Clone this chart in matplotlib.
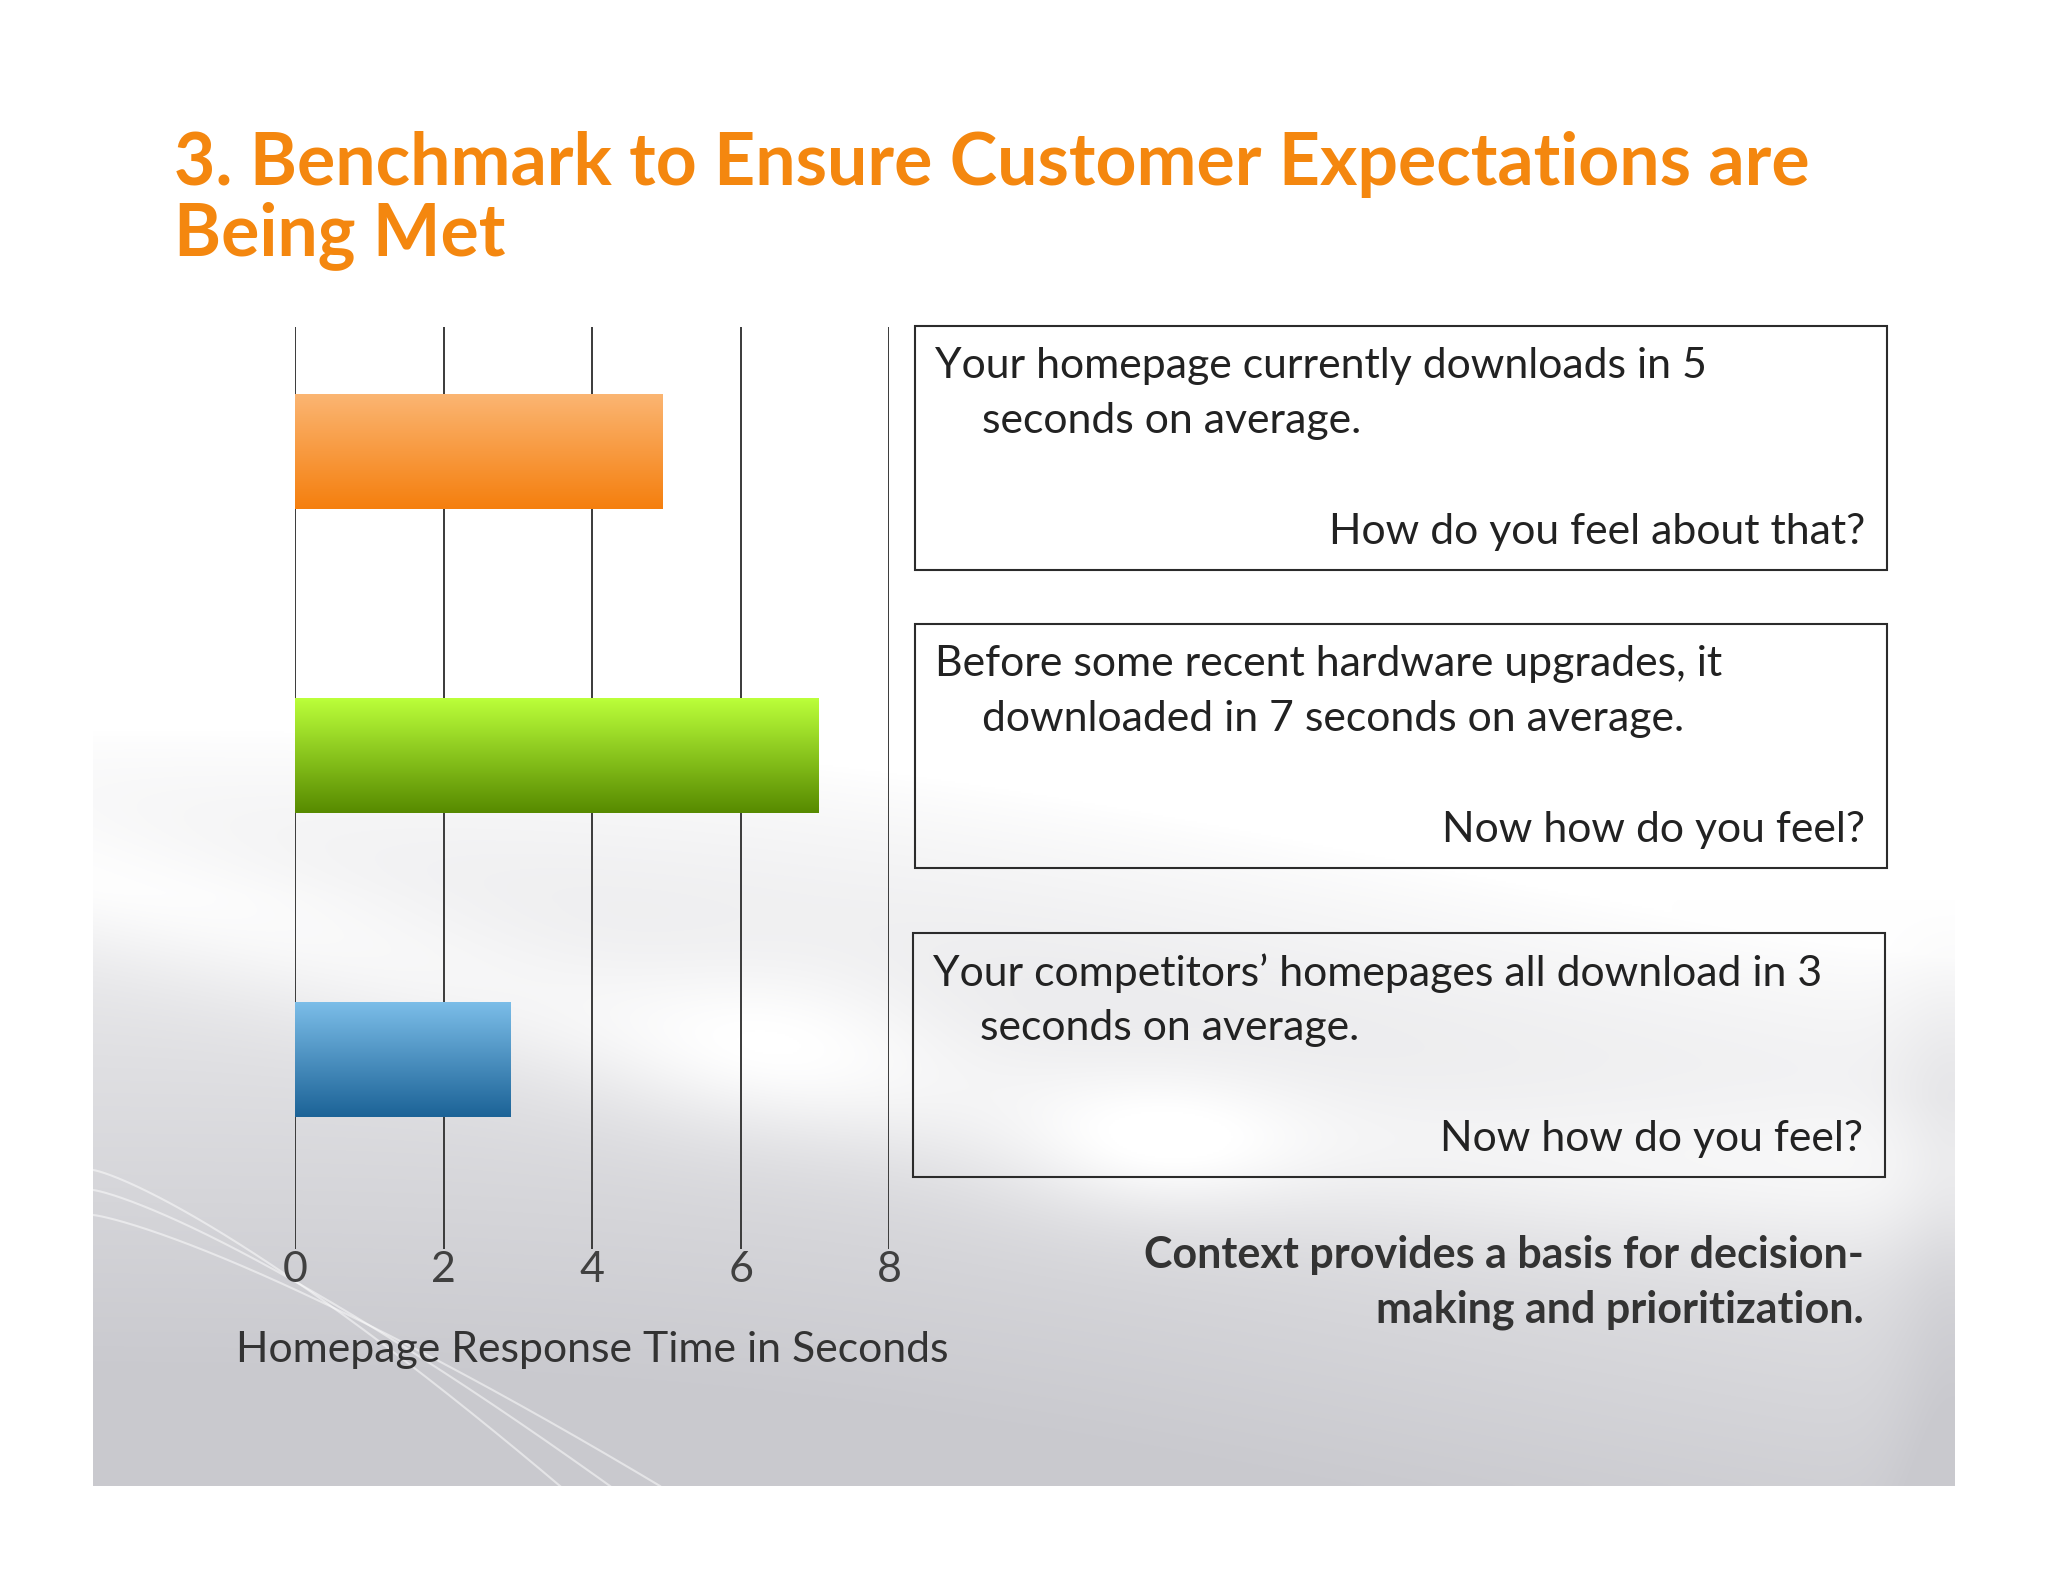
import numpy as np
import matplotlib.pyplot as plt
from matplotlib.patches import Rectangle
from matplotlib.colors import to_rgb

plt.rcParams['font.family'] = ['Lato', 'DejaVu Sans']

# chart data
categories = ["Current homepage", "Before hardware upgrades", "Competitors"]
response_times = [4.95, 7.05, 2.9]
bar_top_colors = ["#FBB572", "#BBFF3A", "#7BBDE8"]
bar_bottom_colors = ["#F57F0E", "#578A00", "#1C6397"]
x_ticks = [0, 2, 4, 6, 8]
x_label = "Homepage Response Time in Seconds"

title_lines = ["3. Benchmark to Ensure Customer Expectations are", "Being Met"]
box_texts = [
    ("Your homepage currently downloads in 5", "seconds on average.", "How do you feel about that?"),
    ("Before some recent hardware upgrades, it", "downloaded in 7 seconds on average.", "Now how do you feel?"),
    ("Your competitors\u2019 homepages all download in 3", "seconds on average.", "Now how do you feel?"),
]
note_lines = ["Context provides a basis for decision-", "making and prioritization."]

fig = plt.figure(figsize=(20.48, 15.82), dpi=100)

# background layer in pixel coordinates
bg = fig.add_axes([0, 0, 1, 1])
bg.axis('off')

# soft grey swirl behind the lower part of the slide
xs = np.arange(93, 1956, 2)
ys = np.arange(700, 1487, 2)
X, Y = np.meshgrid(xs, ys)
u = (X - 93) / 1862
yb = 730 + 190 * u - 40 * np.sin(np.pi * u * 1.4)
g = np.clip((Y - yb) / 640, 0, 1) ** 0.8
yc = 880 + 300 * u + 80 * np.sin(np.pi * u)
g = g - 0.3 * np.exp(-((Y - yc) / 80) ** 2) * np.clip(g * 3, 0, 1)
g = g - 0.35 * np.exp(-(((X - 1160) / 140) ** 2 + ((Y - 1150) / 70) ** 2))
g = g - 0.25 * np.exp(-(((X - 780) / 160) ** 2 + ((Y - 1040) / 90) ** 2))
g = g + 0.25 * np.exp(-((X - 1955) / 60) ** 2) * np.clip((Y - 900) / 200, 0, 1)
g = np.clip(g, 0, 1)
dark = np.array([0.79, 0.79, 0.81])
img = (1 - g)[..., None] + g[..., None] * dark
bg.imshow(img, extent=(93, 1955, 1486, 700), origin='upper', aspect='auto',
          interpolation='bilinear', zorder=0)
t = np.linspace(0, 1, 200)
for y_start, x_end in [(1170, 560), (1190, 610), (1215, 660)]:
    bg.plot(93 + (x_end - 93) * t, y_start + (1486 - y_start) * t ** 1.25,
            color='white', alpha=0.5, lw=1.5, zorder=1)

bg.set_xlim(0, 2048)
bg.set_ylim(1582, 0)

# title
for i, line in enumerate(title_lines):
    bg.text(174, 185 + i * 70, line, va='baseline', ha='left', fontsize=51.5,
            weight='bold', color='#F4870F')

# text boxes
box_left = [915, 915, 913]
box_top = [326, 624, 933]
for (l1, l2, l3), x0, y0 in zip(box_texts, box_left, box_top):
    bg.add_patch(Rectangle((x0, y0), 972, 244, fill=False, ec='#2b2b2b', lw=1.5, zorder=2))
    bg.text(x0 + 20, y0 + 40, l1, va='center', ha='left', fontsize=30.8, color='#222222')
    bg.text(x0 + 67, y0 + 95, l2, va='center', ha='left', fontsize=30.8, color='#222222')
    bg.text(x0 + 950, y0 + 206, l3, va='center', ha='right', fontsize=30.8, color='#222222')

for i, line in enumerate(note_lines):
    bg.text(1864, 1255 + i * 55, line, va='center', ha='right', fontsize=31,
            weight='bold', color='#333333')

# bar chart
ax = fig.add_axes([0.1441, 0.2107, 0.2902, 0.5827])
ax.patch.set_alpha(0)
y_pos = np.arange(len(categories))
bars = ax.barh(y_pos, response_times, height=0.378, color='none', zorder=3)
for bar, c0, c1 in zip(bars, bar_top_colors, bar_bottom_colors):
    x0, y0 = bar.get_x(), bar.get_y()
    w, h = bar.get_width(), bar.get_height()
    f = np.linspace(0, 1, 100)[:, None, None]
    grad = (1 - f) * np.array(to_rgb(c0)) + f * np.array(to_rgb(c1))
    ax.imshow(grad, extent=(x0, x0 + w, y0 + h, y0), origin='upper', aspect='auto',
              interpolation='bilinear', zorder=3)

ax.set_xlim(0, 8)
ax.set_ylim(2.6237, -0.4086)
ax.set_xticks(x_ticks)
ax.set_yticks([])
ax.grid(axis='x', color='#3a3a3a', lw=1.4)
ax.set_axisbelow(True)
for s in ax.spines.values():
    s.set_visible(False)
ax.tick_params(axis='x', length=0, pad=2, labelsize=31, labelcolor='#404040')
ax.set_xlabel(x_label, fontsize=30.8, color='#333333', labelpad=30)

fig.savefig('out.png', dpi=100)
